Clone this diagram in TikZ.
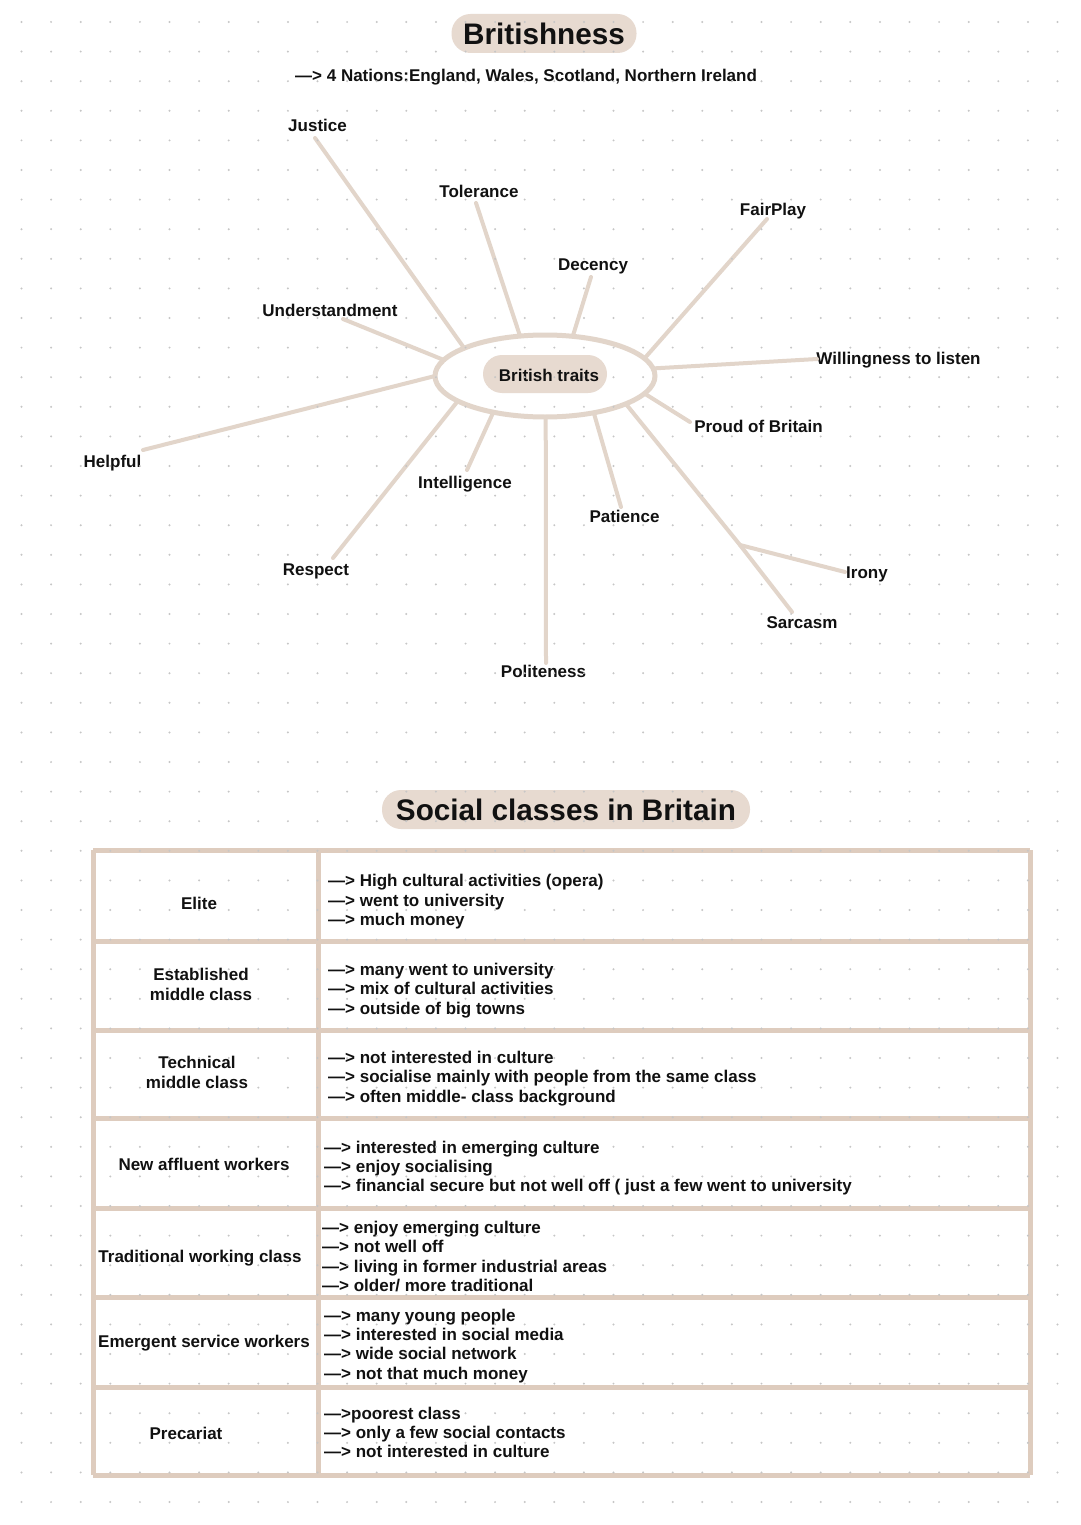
\documentclass[tikz,border=0pt]{standalone}
\usepackage{fontspec}
\setmainfont{Liberation Sans}
\usetikzlibrary{shapes.geometric}
\definecolor{linec}{RGB}{226,213,202}
\definecolor{pillc}{RGB}{231,218,208}
\definecolor{tablec}{RGB}{222,204,190}
\definecolor{dotc}{RGB}{198,198,198}
\definecolor{ink}{RGB}{17,17,17}
\begin{document}
\begin{tikzpicture}[x=1pt,y=-1pt,
  lbl/.style={font=\fontsize{17.0}{19.5}\selectfont\bfseries, text=ink, inner sep=0pt, text height=12.2pt, text depth=0pt},
  cell/.style={lbl, anchor=west},
  twoline/.style={font=\fontsize{17.0}{19.5}\selectfont\bfseries, text=ink, inner sep=0pt, align=center},
  title/.style={font=\fontsize{29.7}{32}\selectfont\bfseries, text=ink, inner sep=0pt, text height=21.3pt, text depth=0pt},
  pill/.style={fill=pillc, rounded corners=19pt, minimum height=39pt},
  spoke/.style={draw=linec, line width=4pt, line cap=round},
  tline/.style={draw=tablec, line width=5pt}
]
\fill[white] (0,0) rectangle (1080,1525);
\useasboundingbox (0,0) rectangle (1080,1525);

% ---------- Britishness ----------
\node[pill, minimum width=185pt] (titlepill) at (544,33.5) {};
\node[title] (title) at (544,34) {Britishness};
\node[lbl, anchor=west] (nations) at (295,75) {—> 4 Nations:England, Wales, Scotland, Northern Ireland};

% ---------- mind map ----------
\node[ellipse, draw=linec, line width=5pt, fill=white, minimum width=220pt, minimum height=82pt, inner sep=0pt, outer sep=0pt] (ell) at (545,376) {};
\node[pill, minimum width=124pt, minimum height=38pt] (traitspill) at (545,374) {};
\node[lbl] (traits) at (549,375) {British traits};

\node[lbl] (justice) at (317.5,125) {Justice};
\node[lbl] (tolerance) at (479,191.5) {Tolerance};
\node[lbl] (understand) at (330,310) {Understandment};
\node[lbl] (helpful) at (112.5,461) {Helpful};
\node[lbl] (intelligence) at (465,482.5) {Intelligence};
\node[lbl] (fairplay) at (773,209.5) {FairPlay};
\node[lbl] (decency) at (593,264) {Decency};
\node[lbl] (willing) at (898.5,358.5) {Willingness to listen};
\node[lbl] (proud) at (758.5,426) {Proud of Britain};
\node[lbl] (respect) at (316,569.5) {Respect};
\node[lbl] (patience) at (624.5,516) {Patience};
\node[lbl] (politeness) at (543.5,671.5) {Politeness};
\node[lbl] (irony) at (867,572.5) {Irony};
\node[lbl] (sarcasm) at (802,622) {Sarcasm};

\coordinate (justiceE) at (315,138);
\coordinate (toleranceE) at (476,203);
\coordinate (understandE) at (343,319);
\coordinate (helpfulE) at (143,450);
\coordinate (decencyE) at (591,277);
\coordinate (fairplayE) at (767,219);
\coordinate (willingE) at (817,359);
\coordinate (proudE) at (690,422);
\coordinate (intelligenceE) at (467,470);
\coordinate (respectE) at (333,558);
\coordinate (politenessE) at (546,663);
\coordinate (patienceE) at (621,507);
\coordinate (branch) at (740,545);
\coordinate (sarcasmE) at (792,612);
\coordinate (ironyE) at (845,572);

\draw[spoke] (ell.161) -- (justiceE);
\draw[spoke] (ell.122) -- (toleranceE);
\draw[spoke] (ell.171) -- (understandE);
\draw[spoke] (ell.180.5) -- (helpfulE);
\draw[spoke] (ell.55) -- (decencyE);
\draw[spoke] (ell.10.6) -- (fairplayE);
\draw[spoke] (ell.4.2) -- (willingE);
\draw[spoke] (ell.-10.3) -- (proudE);
\draw[spoke] (ell.215.7) -- (intelligenceE);
\draw[spoke] (ell.196.8) -- (respectE);
\draw[spoke] (ell.-89) -- (politenessE);
\draw[spoke] (ell.-37.4) -- (patienceE);
\draw[spoke] (ell.-19.6) -- (branch) -- (sarcasmE);
\draw[spoke] (branch) -- (ironyE);

% ---------- Social classes ----------
\node[pill, minimum width=368pt] (socpill) at (566,809.5) {};
\node[title] (soctitle) at (566,810) {Social classes in Britain};

% table grid
\foreach \yy in {850,941,1030,1118,1208,1297,1387,1475}
  \draw[tline] (93,\yy) -- (1030,\yy);
\draw[tline] (93,850) -- (93,1475);
\draw[tline] (318,850) -- (318,1475);
\draw[tline] (1030,850) -- (1030,1475);

% left column
\node[lbl] (elite) at (199,903) {Elite};
\node[twoline] (established) at (201,984.5) {Established\\middle class};
\node[twoline] (technical) at (197,1072.5) {Technical\\middle class};
\node[lbl] (affluent) at (204,1164) {New affluent workers};
\node[lbl] (traditional) at (200,1256) {Traditional working class};
\node[lbl] (emergent) at (204,1341) {Emergent service workers};
\node[lbl] (precariat) at (186,1433) {Precariat};

% right column
\node[cell] (e1) at (328,880) {—> High cultural activities (opera)};
\node[cell] (e2) at (328,900) {—> went to university};
\node[cell] (e3) at (328,919) {—> much money};

\node[cell] (m1) at (328,969) {—> many went to university};
\node[cell] (m2) at (328,988) {—> mix of cultural activities};
\node[cell] (m3) at (328,1008) {—> outside of big towns};

\node[cell] (t1) at (328,1057) {—> not interested in culture};
\node[cell] (t2) at (328,1076) {—> socialise mainly with people from the same class};
\node[cell] (t3) at (328,1096) {—> often middle- class background};

\node[cell] (a1) at (324,1147) {—> interested in emerging culture};
\node[cell] (a2) at (324,1166) {—> enjoy socialising};
\node[cell] (a3) at (324,1185) {—> financial secure but not well off ( just a few went to university};

\node[cell] (w1) at (322,1227) {—> enjoy emerging culture};
\node[cell] (w2) at (322,1246) {—> not well off};
\node[cell] (w3) at (322,1266) {—> living in former industrial areas};
\node[cell] (w4) at (322,1285) {—> older/ more traditional};

\node[cell] (s1) at (324,1315) {—> many young people};
\node[cell] (s2) at (324,1334) {—> interested in social media};
\node[cell] (s3) at (324,1353) {—> wide social network};
\node[cell] (s4) at (324,1373) {—> not that much money};

\node[cell] (p1) at (324,1413) {—>poorest class};
\node[cell] (p2) at (324,1432) {—> only a few social contacts};
\node[cell] (p3) at (324,1451) {—> not interested in culture};

% ---------- dot grid ----------
\foreach \i in {0,...,35}{
  \foreach \j in {0,...,50}{
    \fill[dotc] ({21.5+29.6*\i},{22+29.6*\j}) circle (1.1pt);
  }
}
\end{tikzpicture}
\end{document}
